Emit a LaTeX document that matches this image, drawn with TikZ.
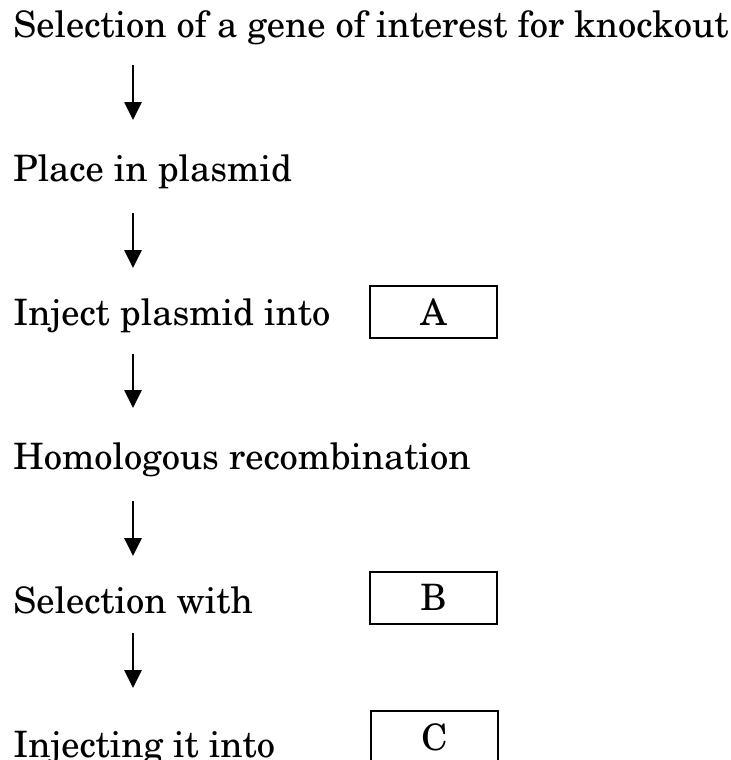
\documentclass[tikz,border=0pt]{standalone}
\usepackage[T1]{fontenc}
\usepackage{newcent}
\usetikzlibrary{arrows.meta}

\tikzset{every picture/.style={line width=0.75pt}}
\tikzset{
  steptext/.style={anchor=base west,inner sep=0pt,font=\fontsize{27.3}{32}\selectfont},
  blankbox/.style={draw,line width=1.5pt,minimum width=95.25pt,minimum height=39pt,inner sep=0pt,font=\fontsize{27.3}{32}\selectfont},
  flowarrow/.style={line width=2pt,-{Triangle[length=13.5pt,width=12.75pt]}}
}

\begin{document}
\begin{tikzpicture}[x=0.75pt,y=0.75pt,yscale=-1,xscale=1]
	\useasboundingbox (0,0) rectangle (731,760);

	% Text Node
	\node[steptext] (t1) at (13,37) {Selection of a gene of interest for knockout};
	% Text Node
	\node[steptext] (t2) at (13,181) {Place in plasmid};
	% Text Node
	\node[steptext] (t3) at (13,325) {Inject plasmid into};
	% Text Node
	\node[steptext] (t4) at (13,469) {Homologous recombination};
	% Text Node
	\node[steptext] (t5) at (13,613) {Selection with};
	% Text Node
	\node[steptext] (t6) at (13,757) {Injecting it into};

	%Shape: Rectangle
	\node[blankbox] (boxA) at (433.5,312) {A};
	%Shape: Rectangle
	\node[blankbox] (boxB) at (433.5,597.5) {B};
	%Shape: Rectangle
	\node[blankbox] (boxC) at (434.5,737) {C};

	% arrow ends
	\coordinate (s1) at (133,65);
	\coordinate (e1) at (133,120);
	\coordinate (s2) at (133,213);
	\coordinate (e2) at (133,268);
	\coordinate (s3) at (133,354);
	\coordinate (e3) at (133,408);
	\coordinate (s4) at (133,501);
	\coordinate (e4) at (133,556);
	\coordinate (s5) at (133,633);
	\coordinate (e5) at (133,688);

	%Straight Lines
	\draw[flowarrow] (s1) -- (e1);
	\draw[flowarrow] (s2) -- (e2);
	\draw[flowarrow] (s3) -- (e3);
	\draw[flowarrow] (s4) -- (e4);
	\draw[flowarrow] (s5) -- (e5);

\end{tikzpicture}
\end{document}
